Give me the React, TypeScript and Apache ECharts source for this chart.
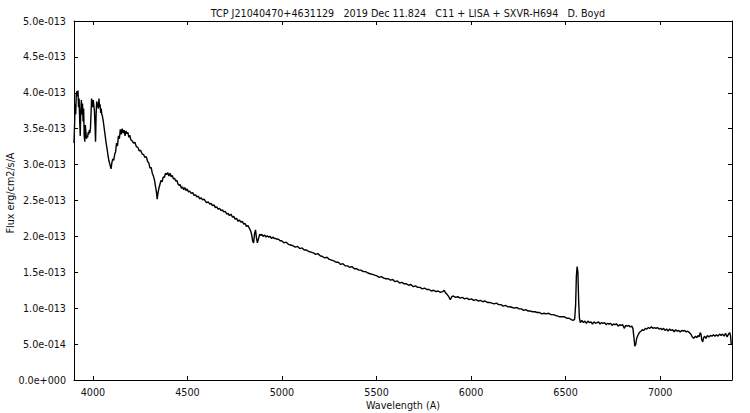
import React, { useEffect, useRef } from "react";
import * as echarts from "echarts";

const titleText =
  "TCP J21040470+4631129   2019 Dec 11.824   C11 + LISA + SXVR-H694   D. Boyd";
const xAxisName = "Wavelength (A)";
const yAxisName = "Flux erg/cm2/s/A";
const xTicks = [4000, 4500, 5000, 5500, 6000, 6500, 7000];
const yTicks = [0, 0.5, 1, 1.5, 2, 2.5, 3, 3.5, 4, 4.5, 5];
// flux in units of 1e-13 erg/cm2/s/A
const blueEnd: number[][] = [
  [3900, 3.3], [3903, 3.55], [3906, 3.85], [3909, 3.7], [3912, 3.98], [3915, 4.02], [3918, 3.95],
  [3921, 4.03], [3924, 3.8], [3927, 3.92], [3930, 3.62], [3933, 3.4], [3936, 3.75], [3939, 3.9],
  [3942, 3.7], [3945, 3.85], [3948, 3.6], [3951, 3.78], [3954, 3.4], [3957, 3.32], [3960, 3.55],
  [3963, 3.45], [3966, 3.36], [3969, 3.4], [3972, 3.38], [3975, 3.45], [3978, 3.42], [3981, 3.48],
  [3984, 3.44], [3987, 3.5], [3990, 3.7], [3993, 3.92], [3996, 3.85], [3999, 3.8], [4002, 3.9],
  [4005, 3.82], [4008, 3.75], [4011, 3.55], [4014, 3.32], [4017, 3.7], [4020, 3.88], [4023, 3.8],
  [4026, 3.86], [4029, 3.78], [4032, 3.92], [4035, 3.8], [4038, 3.84], [4041, 3.72], [4044, 3.78],
  [4047, 3.7], [4050, 3.68], [4055, 3.6], [4060, 3.5], [4065, 3.4], [4070, 3.3], [4075, 3.22],
  [4080, 3.12], [4085, 3.05], [4090, 3.0], [4096, 2.94],
];
const balmerRegion: number[][] = [
  [4100, 3.02], [4105, 3.08], [4110, 3.06], [4115, 3.14], [4120, 3.18], [4125, 3.3], [4130, 3.26],
  [4135, 3.4], [4140, 3.36], [4145, 3.49], [4150, 3.42], [4155, 3.5], [4160, 3.44], [4165, 3.48],
  [4170, 3.4], [4175, 3.47], [4180, 3.43], [4185, 3.45], [4190, 3.38], [4195, 3.41], [4200, 3.35],
  [4208, 3.33], [4215, 3.3], [4222, 3.31], [4230, 3.25], [4238, 3.24], [4245, 3.19], [4252, 3.2],
  [4260, 3.15], [4268, 3.14], [4275, 3.1], [4282, 3.11], [4290, 3.04], [4296, 3.02], [4302, 2.95],
  [4308, 2.96], [4314, 2.88], [4320, 2.84], [4326, 2.78], [4332, 2.68], [4336, 2.62], [4340, 2.52],
  [4344, 2.6], [4348, 2.66], [4354, 2.72], [4360, 2.78], [4366, 2.76], [4372, 2.83], [4378, 2.82],
  [4384, 2.88], [4390, 2.86], [4396, 2.89], [4402, 2.84], [4408, 2.88], [4414, 2.83], [4420, 2.85],
  [4426, 2.8], [4432, 2.81], [4438, 2.77], [4444, 2.78], [4450, 2.73], [4456, 2.71], [4462, 2.72],
  [4468, 2.67], [4474, 2.69], [4480, 2.65], [4486, 2.68], [4492, 2.64], [4498, 2.66],
  [4505, 2.62], [4512, 2.63], [4520, 2.6], [4528, 2.61], [4535, 2.57], [4542, 2.58], [4550, 2.55],
  [4558, 2.56], [4565, 2.52], [4572, 2.54], [4580, 2.51], [4588, 2.52], [4595, 2.49], [4602, 2.47],
  [4610, 2.48], [4618, 2.45], [4625, 2.46], [4632, 2.43], [4640, 2.44], [4648, 2.4], [4655, 2.41],
  [4662, 2.38], [4670, 2.39], [4678, 2.36], [4685, 2.37], [4692, 2.34], [4700, 2.35], [4708, 2.31],
  [4715, 2.32], [4722, 2.29], [4730, 2.31], [4738, 2.27], [4745, 2.28], [4752, 2.24], [4760, 2.25],
  [4768, 2.21], [4775, 2.23], [4782, 2.2], [4790, 2.21], [4798, 2.17], [4805, 2.18], [4812, 2.14],
  [4820, 2.15], [4828, 2.11], [4834, 2.08], [4840, 2.02], [4845, 1.93], [4850, 1.91], [4855, 2.04],
  [4860, 2.09], [4865, 1.98], [4870, 1.91], [4876, 1.97], [4882, 2.03], [4888, 2.01], [4894, 2.03],
  [4900, 2.0], [4908, 2.02], [4915, 1.99], [4922, 2.01], [4930, 1.99], [4938, 2.0], [4945, 1.97],
  [4952, 1.99], [4960, 1.97], [4968, 1.97], [4975, 1.96], [4982, 1.96], [4990, 1.94], [4998, 1.94],
];
const continuum: number[][] = [
  [5010, 1.91], [5022, 1.92], [5034, 1.89], [5046, 1.88], [5058, 1.87], [5070, 1.85], [5082, 1.86],
  [5094, 1.83], [5106, 1.84], [5118, 1.81], [5130, 1.81], [5142, 1.79], [5154, 1.78], [5166, 1.77],
  [5178, 1.75], [5190, 1.76], [5202, 1.73], [5214, 1.72], [5226, 1.7], [5238, 1.71], [5250, 1.68],
  [5262, 1.67], [5274, 1.66], [5286, 1.64], [5298, 1.64], [5310, 1.61], [5322, 1.62], [5334, 1.59],
  [5346, 1.59], [5358, 1.57], [5370, 1.58], [5382, 1.55], [5394, 1.55], [5406, 1.53], [5418, 1.53],
  [5430, 1.51], [5442, 1.51], [5454, 1.49], [5466, 1.48], [5478, 1.47], [5490, 1.46], [5502, 1.45],
  [5514, 1.43], [5526, 1.44], [5538, 1.42], [5550, 1.41], [5562, 1.41], [5574, 1.39], [5586, 1.4],
  [5598, 1.37], [5610, 1.38], [5622, 1.35], [5634, 1.36], [5646, 1.34], [5658, 1.34], [5670, 1.32],
  [5682, 1.33], [5694, 1.3], [5706, 1.31], [5718, 1.29], [5730, 1.29], [5742, 1.27], [5754, 1.28],
  [5766, 1.26], [5778, 1.26], [5790, 1.24], [5802, 1.25], [5814, 1.23], [5826, 1.24], [5838, 1.22],
  [5850, 1.23], [5858, 1.25], [5866, 1.21], [5874, 1.19], [5882, 1.16], [5890, 1.12], [5898, 1.16],
  [5906, 1.17], [5918, 1.15], [5930, 1.16], [5942, 1.14], [5954, 1.15], [5966, 1.13], [5978, 1.14],
  [5990, 1.12], [6002, 1.13], [6014, 1.11], [6026, 1.12], [6038, 1.1], [6050, 1.11], [6062, 1.09],
  [6074, 1.1], [6086, 1.08], [6098, 1.08], [6110, 1.07], [6122, 1.06], [6134, 1.07], [6146, 1.05],
  [6158, 1.05], [6170, 1.03], [6182, 1.04], [6194, 1.02], [6206, 1.02], [6218, 1.01], [6230, 1.0],
  [6242, 1.01], [6254, 0.99], [6266, 0.99], [6278, 0.97], [6290, 0.98], [6302, 0.96], [6314, 0.96],
  [6326, 0.95], [6338, 0.95], [6350, 0.94], [6362, 0.94], [6374, 0.92], [6386, 0.93], [6398, 0.92],
  [6410, 0.93], [6422, 0.91], [6434, 0.91], [6446, 0.9], [6458, 0.89], [6470, 0.88], [6482, 0.88],
  [6494, 0.88], [6506, 0.86], [6518, 0.86], [6530, 0.84], [6540, 0.83], [6548, 0.85],
];
const redEnd: number[][] = [
  [6553, 1.05], [6557, 1.45], [6561, 1.58], [6565, 1.5], [6569, 1.1], [6573, 0.86], [6578, 0.8],
  [6586, 0.83], [6594, 0.8], [6602, 0.82], [6610, 0.79], [6618, 0.82], [6626, 0.8], [6634, 0.81],
  [6642, 0.78], [6650, 0.81], [6658, 0.79], [6666, 0.8], [6674, 0.81], [6682, 0.78], [6690, 0.8],
  [6698, 0.79], [6706, 0.8], [6714, 0.77], [6722, 0.79], [6730, 0.78], [6738, 0.79], [6746, 0.76],
  [6754, 0.78], [6762, 0.77], [6770, 0.78], [6778, 0.75], [6786, 0.77], [6794, 0.76], [6802, 0.77],
  [6810, 0.72], [6818, 0.76], [6826, 0.75], [6834, 0.76], [6842, 0.74], [6850, 0.75], [6856, 0.72],
  [6861, 0.6], [6866, 0.47], [6871, 0.5], [6876, 0.58], [6882, 0.62], [6890, 0.66], [6898, 0.68],
  [6906, 0.7], [6914, 0.69], [6922, 0.72], [6930, 0.71], [6938, 0.73], [6946, 0.72], [6954, 0.74],
  [6962, 0.72], [6970, 0.73], [6978, 0.72], [6986, 0.73], [6994, 0.71], [7002, 0.72], [7010, 0.7],
  [7018, 0.72], [7026, 0.69], [7034, 0.71], [7042, 0.68], [7050, 0.71], [7058, 0.69], [7066, 0.7],
  [7074, 0.67], [7082, 0.7], [7090, 0.68], [7098, 0.69], [7106, 0.67], [7114, 0.69], [7122, 0.68],
  [7130, 0.69], [7138, 0.67], [7146, 0.68], [7154, 0.66], [7162, 0.64], [7170, 0.6], [7178, 0.58],
  [7186, 0.61], [7194, 0.59], [7200, 0.62], [7206, 0.6], [7212, 0.66], [7216, 0.64], [7220, 0.56],
  [7225, 0.53], [7230, 0.59], [7236, 0.61], [7242, 0.58], [7250, 0.62], [7258, 0.6], [7266, 0.62],
  [7274, 0.61], [7282, 0.63], [7290, 0.61], [7298, 0.63], [7306, 0.61], [7314, 0.64], [7322, 0.62],
  [7330, 0.64], [7338, 0.61], [7346, 0.65], [7354, 0.6], [7362, 0.64], [7368, 0.66], [7372, 0.62],
  [7376, 0.5],
];
const spectrum = [...blueEnd, ...balmerRegion, ...continuum, ...redEnd];

const FONT = "'DejaVu Sans Condensed', 'Liberation Sans', sans-serif";
const TXT = "#111";
const FS = 10.7;

function fmtFlux(v: number): string {
  const s = (v * 1e-13).toExponential(1);
  return s.replace(/e([+-])(\d+)/, (_m, sign, d) => "e" + sign + d.padStart(3, "0"));
}

export default function App() {
  const ref = useRef<HTMLDivElement>(null);
  useEffect(() => {
    const chart = echarts.init(ref.current!, null, { renderer: "svg" });
    const axisLine = { onZero: false, lineStyle: { color: "#000", width: 1 } };
    const tickStyle = { color: "#000", width: 1 };
    const nameStyle = { fill: TXT, fontFamily: FONT, fontSize: FS };
    chart.setOption({
      animation: false,
      backgroundColor: "#fff",
      title: {
        text: titleText,
        left: 403,
        textAlign: "center",
        top: 3,
        textStyle: { fontFamily: FONT, fontSize: FS, fontWeight: "normal", color: TXT },
      },
      grid: {
        left: 74,
        right: 18,
        top: 21,
        bottom: 33,
        show: false,
        containLabel: false,
        outerBoundsMode: "none",
      },
      graphic: [
        {
          type: "text",
          x: 10,
          y: 193,
          rotation: Math.PI / 2,
          style: { ...nameStyle, text: yAxisName, align: "center", verticalAlign: "middle" },
        },
        {
          type: "text",
          x: 403,
          y: 405,
          style: { ...nameStyle, text: xAxisName, align: "center", verticalAlign: "middle" },
        },
      ],
      xAxis: [
        {
          type: "value",
          min: 3900,
          max: 7380,
          position: "bottom",
          splitLine: { show: false },
          axisLine,
          axisTick: { inside: true, length: 4, customValues: xTicks, lineStyle: tickStyle },
          axisLabel: {
            customValues: xTicks,
            formatter: (v: number) => String(v),
            color: TXT,
            fontFamily: FONT,
            fontSize: FS,
            margin: 7,
          },
        },
        {
          type: "value",
          min: 3900,
          max: 7380,
          position: "top",
          splitLine: { show: false },
          axisLine,
          axisTick: { inside: true, length: 4, customValues: xTicks, lineStyle: tickStyle },
          axisLabel: { show: false },
        },
      ],
      yAxis: [
        {
          type: "value",
          min: 0,
          max: 5,
          interval: 0.5,
          position: "left",
          splitLine: { show: false },
          axisLine,
          axisTick: { inside: true, length: 4, customValues: yTicks, lineStyle: tickStyle },
          axisLabel: {
            customValues: yTicks,
            formatter: (v: number) => fmtFlux(v),
            color: TXT,
            fontFamily: FONT,
            fontSize: FS,
            margin: 8,
          },
        },
        {
          type: "value",
          min: 0,
          max: 5,
          interval: 0.5,
          position: "right",
          splitLine: { show: false },
          axisLine,
          axisTick: { inside: true, length: 4, customValues: yTicks, lineStyle: tickStyle },
          axisLabel: { show: false },
        },
      ],
      series: [
        {
          type: "line",
          data: spectrum,
          xAxisIndex: 0,
          yAxisIndex: 0,
          showSymbol: false,
          symbol: "none",
          lineStyle: { color: "#000", width: 1.4 },
          silent: true,
        },
      ],
    });
    return () => chart.dispose();
  }, []);
  return (
    <div
      ref={ref}
      style={{ position: "absolute", left: 0, top: 0, width: 750, height: 413, background: "#fff" }}
    />
  );
}
